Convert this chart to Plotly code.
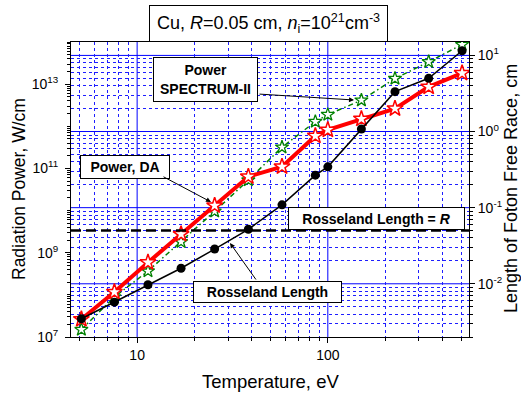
import numpy as np
import plotly.graph_objects as go

# ---------------- data ----------------
temperature_eV = [5.1, 7.6, 11.4, 17.0, 25.5, 38.3, 57.5, 86.0, 100, 150, 225, 338, 506]
power_DA = [2.64e7, 1.17e8, 5.87e8, 2.76e9, 1.31e10, 6.36e10, 1.10e11, 5.9e11, 8.2e11,
            1.50e12, 2.63e12, 8.6e12, 1.82e13]
power_SPECTRUM = [1.5e7, 8.9e7, 3.65e8, 1.81e9, 9.6e9, 5.3e10, 3.18e11, 1.29e12, 1.89e12,
                  4.16e12, 1.36e13, 3.39e13, 8.7e13]
rosseland_length_cm = [3.47e-3, 5.74e-3, 9.7e-3, 0.016, 0.0286, 0.052, 0.109, 0.267, 0.344,
                       1.08, 3.34, 5.0, 11.5]
R_cm = 0.05

x_range = [4.5, 550]
yl_range = [1e7, 1e14]
yr_range = [0.002, 15]

x_major = [10, 100]
x_major_text = ["10", "100"]
yl_major = [1e7, 1e9, 1e11, 1e13]
yl_major_text = ["10<sup>7</sup>", "10<sup>9</sup>", "10<sup>11</sup>", "10<sup>13</sup>"]
yl_unlabelled = [1e8, 1e10, 1e12, 1e14]
yr_major = [0.01, 0.1, 1, 10]
yr_major_text = ["10<sup>-2</sup>", "10<sup>-1</sup>", "10<sup>0</sup>", "10<sup>1</sup>"]


def minors(lo, hi):
    out = []
    for e in range(int(np.floor(np.log10(lo))) - 1, int(np.ceil(np.log10(hi))) + 1):
        for k in range(2, 10):
            v = k * 10.0 ** e
            if lo <= v <= hi:
                out.append(v)
    return out


# ---------------- geometry helpers (plot area in px) ----------------
W, H = 521, 394
L, Rr, T, B = 71, 469, 42, 337


def px(x):
    return (x - L) / (Rr - L)


def py(y):
    return (B - y) / (B - T)


FONT = "Arial, Liberation Sans, sans-serif"
BLUE = "#0000ff"
BLUE_D = "rgb(30,30,255)"

fig = go.Figure()

fig.add_trace(go.Scatter(
    x=temperature_eV, y=power_SPECTRUM, mode="lines+markers", yaxis="y",
    line=dict(color="#008000", width=1.5, dash="5px,3px,1.5px,3px"),
    marker=dict(symbol="star", size=10, color="white",
                line=dict(color="#008000", width=1.3)),
    showlegend=False))
fig.add_trace(go.Scatter(
    x=temperature_eV, y=power_DA, mode="lines+markers", yaxis="y",
    line=dict(color="#ff0000", width=4),
    marker=dict(symbol="star", size=12, color="white",
                line=dict(color="#ff0000", width=1.5)),
    showlegend=False))
fig.add_trace(go.Scatter(
    x=temperature_eV, y=rosseland_length_cm, mode="lines+markers", yaxis="y2",
    line=dict(color="black", width=1.5),
    marker=dict(symbol="circle", size=9, color="black"),
    showlegend=False))

# major grid lines (solid blue) as shapes
for v in x_major:
    fig.add_shape(type="line", layer="below", xref="x", x0=v, x1=v, yref="paper",
                  y0=0, y1=1, line=dict(color=BLUE, width=1))
for v in yr_major:
    fig.add_shape(type="line", layer="below", xref="paper", x0=0, x1=1, yref="y2",
                  y0=v, y1=v, line=dict(color=BLUE, width=1))

# Rosseland length = R line
fig.add_shape(type="line", xref="paper", x0=0, x1=1, yref="y2", y0=R_cm, y1=R_cm,
              line=dict(color="black", width=2.5, dash="10px,5px"))

ann = []


def box(text, cx, cy, w, h, size=14, bold=True):
    ann.append(dict(
        text=f"<b>{text}</b>" if bold else text, xref="paper", yref="paper",
        x=px(cx), y=py(cy), xanchor="center", yanchor="middle",
        width=w - 2, height=h - 2, borderpad=0, showarrow=False,
        bgcolor="white", bordercolor="black", borderwidth=1,
        font=dict(family=FONT, size=size, color="black"), align="center", valign="middle"))


def arrow(tx, ty, hx, hy):
    ann.append(dict(
        text="", xref="paper", yref="paper", x=px(hx), y=py(hy),
        ax=tx - hx, ay=ty - hy, showarrow=True, arrowhead=2, arrowsize=1,
        arrowwidth=1, arrowcolor="black"))


box("Cu, <i>R</i>=0.05 cm, <i>n</i><sub>i</sub>=10<sup>21</sup>cm<sup>-3</sup>",
    268.5, 23.5, 239, 37, size=18, bold=False)
box("Power<br>SPECTRUM-II", 205.5, 79.5, 105, 45)
box("Power, DA", 125, 167, 90, 24)
box("Rosseland Length = <i>R</i>", 376.5, 218.5, 177, 23)
box("Rosseland Length", 267.5, 292, 149, 22)

arrow(258, 94, 354, 100)
arrow(162, 176, 211, 202)
arrow(257, 281, 230, 243)

# axis titles
ann.append(dict(text="Radiation Power, W/cm", xref="paper", yref="paper", x=px(19),
                y=py(189), textangle=-90, showarrow=False, xanchor="center",
                yanchor="middle", font=dict(family=FONT, size=17.5, color="black")))
ann.append(dict(text="Length of Foton Free Race, cm", xref="paper", yref="paper",
                x=px(511), y=py(188), textangle=-90, showarrow=False,
                xanchor="center", yanchor="middle",
                font=dict(family=FONT, size=18, color="black")))
ann.append(dict(text="Temperature, eV", xref="paper", yref="paper", x=px(270),
                y=py(381), showarrow=False, xanchor="center", yanchor="middle",
                font=dict(family=FONT, size=18.5, color="black")))

tickfont = dict(family=FONT, size=14, color="black")

fig.update_layout(
    width=W, height=H, margin=dict(l=L, r=W - Rr, t=T, b=H - B),
    paper_bgcolor="white", plot_bgcolor="white", template="none",
    annotations=ann,
    xaxis=dict(type="log", range=[np.log10(x_range[0]), np.log10(x_range[1])],
               tickmode="array", tickvals=x_major, ticktext=x_major_text,
               ticks="outside", ticklen=5, tickcolor="black", tickfont=tickfont,
               showline=True, linecolor="black", linewidth=1, mirror=True,
               showgrid=False, zeroline=False,
               minor=dict(tickmode="array", tickvals=minors(*x_range), ticks="outside",
                          ticklen=3, tickcolor="black", showgrid=True,
                          gridcolor=BLUE_D, griddash="dot", gridwidth=1)),
    yaxis=dict(type="log", range=[np.log10(yl_range[0]), np.log10(yl_range[1])],
               tickmode="array", tickvals=yl_major, ticktext=yl_major_text,
               ticks="outside", ticklen=5, tickcolor="black", tickfont=tickfont,
               showline=True, linecolor="black", linewidth=1,
               showgrid=False, zeroline=False, ticklabelstandoff=4,
               minor=dict(tickmode="array",
                          tickvals=sorted(minors(*yl_range) + yl_unlabelled),
                          ticks="outside", ticklen=3, tickcolor="black", showgrid=False)),
    yaxis2=dict(type="log", range=[np.log10(yr_range[0]), np.log10(yr_range[1])],
                overlaying="y", side="right",
                tickmode="array", tickvals=yr_major, ticktext=yr_major_text,
                ticks="outside", ticklen=5, tickcolor="black", tickfont=tickfont,
                showline=True, linecolor="black", linewidth=1,
                showgrid=False, zeroline=False,
                minor=dict(tickmode="array", tickvals=minors(*yr_range), ticks="outside",
                           ticklen=3, tickcolor="black", showgrid=True,
                           gridcolor=BLUE_D, griddash="dot", gridwidth=1)),
)

fig.write_html("out.html")
